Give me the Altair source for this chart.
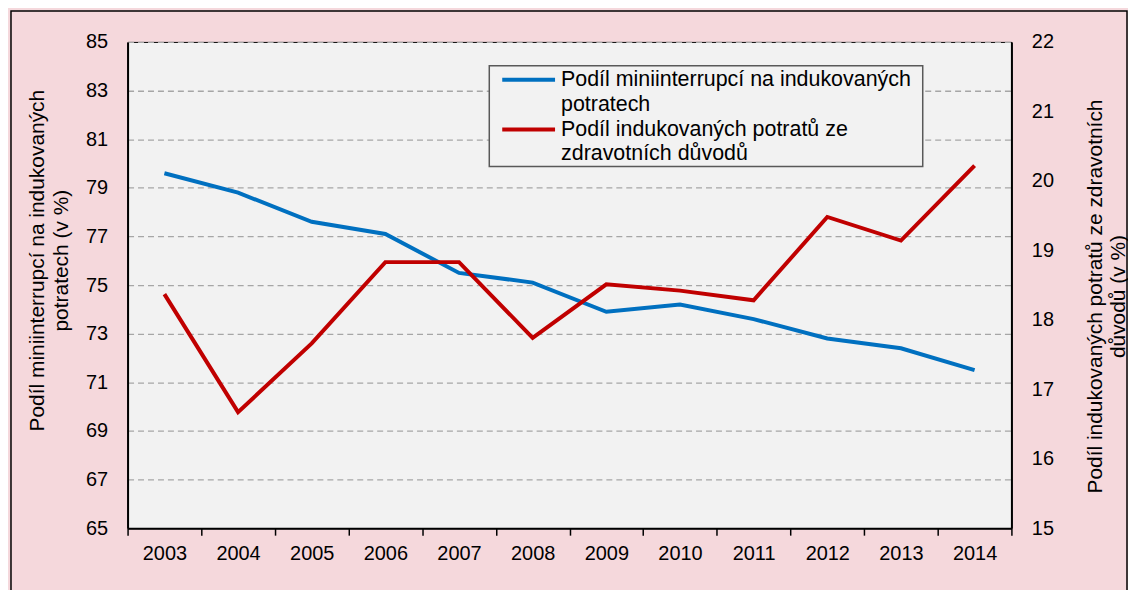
import altair as alt
import pandas as pd

years = ["2003", "2004", "2005", "2006", "2007", "2008", "2009", "2010", "2011", "2012", "2013", "2014"]
mini_share = [79.6, 78.8, 77.6, 77.1, 75.5, 75.1, 73.9, 74.2, 73.6, 72.8, 72.4, 71.5]
health_share = [18.37, 16.67, 17.66, 18.83, 18.83, 17.74, 18.51, 18.42, 18.28, 19.48, 19.14, 20.22]
left_ticks = [65, 67, 69, 71, 73, 75, 77, 79, 81, 83, 85]
right_ticks = [15, 16, 17, 18, 19, 20, 21, 22]
left_title = ["Podíl miniinterrupcí na indukovaných", "potratech (v %)"]
right_title = ["Podíl indukovaných potratů ze zdravotních", "důvodů (v %)"]
legend_blue = ["Podíl miniinterrupcí  na indukovaných", "potratech"]
legend_red = ["Podíl indukovaných potratů ze", "zdravotních důvodů"]

BLUE = "#0070C0"
RED = "#C00000"
FONT = "Liberation Sans"

df = pd.DataFrame({"year": years, "mini": mini_share, "zdrav": health_share})
one = pd.DataFrame({"k": [0]})

x_enc = alt.X(
    "year:O",
    scale=alt.Scale(type="band", paddingInner=0, paddingOuter=0),
    bandPosition=0.5,
    axis=alt.Axis(
        title=None, labelAngle=0, tickBand="extent", tickSize=7, tickWidth=1.5,
        tickColor="black", domainColor="black", domainWidth=2, labelFontSize=20,
        labelPadding=8, grid=False,
    ),
)

blue_line = alt.Chart(df).mark_line(color=BLUE, strokeWidth=4).encode(
    x=x_enc,
    y=alt.Y(
        "mini:Q",
        scale=alt.Scale(domain=[65, 85], nice=False, zero=False),
        axis=alt.Axis(
            values=left_ticks, title=left_title, grid=True, gridDash=[6, 4],
            gridColor="#A6A6A6", gridWidth=1.3, ticks=False, labelPadding=20,
            domainColor="black", domainWidth=2, labelFontSize=20,
            titleFontSize=21, titleFontWeight="normal", titleAngle=270,
            titleX=-90, titleY=219, titleAlign="center", titleBaseline="middle",
            titleLineHeight=24,
        ),
    ),
)

red_line = alt.Chart(df).mark_line(color=RED, strokeWidth=4).encode(
    x=x_enc,
    y=alt.Y(
        "zdrav:Q",
        scale=alt.Scale(domain=[15, 22], nice=False, zero=False),
        axis=alt.Axis(
            orient="right", values=right_ticks, title=right_title, grid=False,
            ticks=False, labelPadding=20, domainColor="black", domainWidth=2,
            labelFontSize=20, titleFontSize=21, titleFontWeight="normal",
            titleAngle=270, titleX=84, titleY=255, titleAlign="center",
            titleBaseline="middle", titleLineHeight=23,
        ),
    ),
)

legend_box = alt.Chart(one).mark_rect(fill="#F2F2F2", stroke="#595959", strokeWidth=1.5).encode(
    x=alt.value(363), x2=alt.value(798), y=alt.value(24), y2=alt.value(125)
)
legend_blue_line = alt.Chart(one).mark_rule(color=BLUE, strokeWidth=4).encode(
    x=alt.value(376), x2=alt.value(429), y=alt.value(38)
)
legend_red_line = alt.Chart(one).mark_rule(color=RED, strokeWidth=4).encode(
    x=alt.value(376), x2=alt.value(429), y=alt.value(88)
)
legend_blue_text = alt.Chart(one).mark_text(
    align="left", baseline="middle", fontSize=21.5, lineHeight=25, font=FONT,
    color="black", text=legend_blue,
).encode(x=alt.value(435), y=alt.value(38))
legend_red_text = alt.Chart(one).mark_text(
    align="left", baseline="middle", fontSize=21.5, lineHeight=25, font=FONT,
    color="black", text=legend_red,
).encode(x=alt.value(435), y=alt.value(88))

outer_border = alt.Chart(one).mark_rect(fillOpacity=0, stroke="black", strokeWidth=1.5).encode(
    x=alt.value(-117), x2=alt.value(1003), y=alt.value(-31), y2=alt.value(570)
)

chart = (
    alt.layer(
        blue_line, red_line, legend_box, legend_blue_line, legend_red_line,
        legend_blue_text, legend_red_text, outer_border,
    )
    .resolve_scale(y="independent")
    .properties(
        width=887, height=488,
        padding={"left": 120, "top": 33, "right": 117, "bottom": 61},
        autosize=alt.AutoSizeParams(type="none"),
        background="#F5D8DC",
    )
    .configure_view(fill="#F2F2F2", stroke="black", strokeWidth=1)
    .configure_axis(labelFont=FONT, titleFont=FONT, labelColor="black", titleColor="black")
)

chart.save("out.html", embed_options={"renderer": "svg", "actions": False})
